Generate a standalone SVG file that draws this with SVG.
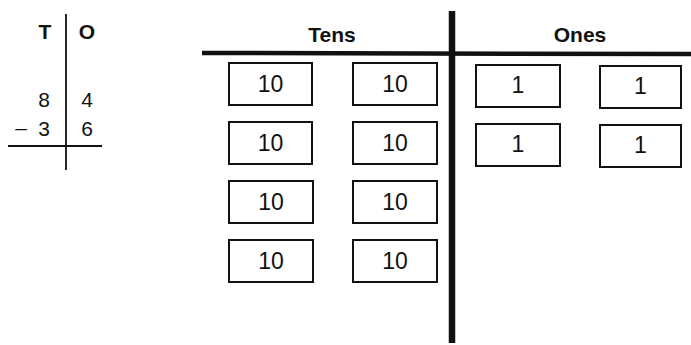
<svg xmlns="http://www.w3.org/2000/svg" width="691" height="345" viewBox="0 0 691 345">
<style>
.bx{fill:#fff;stroke:#111;stroke-width:2}
.n{font-family:"Liberation Sans",Arial,sans-serif;font-size:23px;fill:#111;text-anchor:middle}
.h{font-family:"Liberation Sans",Arial,sans-serif;font-size:21px;font-weight:bold;fill:#111;text-anchor:middle}
.s{font-family:"Liberation Sans",Arial,sans-serif;font-size:21px;fill:#111;text-anchor:middle}
.ln{stroke:#111;fill:none}
</style>
<rect width="691" height="345" fill="#fff"/>
<g id="subtraction">
<line class="ln" x1="66" y1="14" x2="66" y2="170" stroke-width="1.8"/>
<line class="ln" x1="8" y1="146" x2="102" y2="146" stroke-width="1.8"/>
<text class="h" x="45" y="39">T</text>
<text class="h" x="87" y="39">O</text>
<text class="s" x="44" y="107">8</text>
<text class="s" x="87" y="107">4</text>
<text class="s" x="21" y="135">–</text>
<text class="s" x="44" y="136">3</text>
<text class="s" x="87" y="136">6</text>
</g>
<g id="chart">
<line class="ln" x1="202" y1="53" x2="691" y2="54" stroke-width="4.5"/>
<line class="ln" x1="452" y1="11" x2="452" y2="343" stroke-width="6.5"/>
<text class="h" x="332" y="42">Tens</text>
<text class="h" x="580" y="42">Ones</text>
</g>
<g id="tens">
<g id="t1"><rect class="bx" x="229" y="63" width="83" height="42"/><text class="n" x="270.5" y="92">10</text></g>
<g id="t2"><rect class="bx" x="353" y="63" width="84" height="42"/><text class="n" x="395" y="92">10</text></g>
<g id="t3"><rect class="bx" x="229" y="122" width="83" height="42"/><text class="n" x="270.5" y="151">10</text></g>
<g id="t4"><rect class="bx" x="353" y="122" width="84" height="42"/><text class="n" x="395" y="151">10</text></g>
<g id="t5"><rect class="bx" x="229" y="181" width="84" height="42"/><text class="n" x="271" y="210">10</text></g>
<g id="t6"><rect class="bx" x="353" y="181" width="84" height="42"/><text class="n" x="395" y="210">10</text></g>
<g id="t7"><rect class="bx" x="229" y="240" width="84" height="42"/><text class="n" x="271" y="269">10</text></g>
<g id="t8"><rect class="bx" x="353" y="240" width="84" height="42"/><text class="n" x="395" y="269">10</text></g>
</g>
<g id="ones">
<g id="o1"><rect class="bx" x="476" y="65" width="84" height="42"/><text class="n" x="518" y="93">1</text></g>
<g id="o2"><rect class="bx" x="600" y="66" width="81" height="42"/><text class="n" x="640.5" y="94">1</text></g>
<g id="o3"><rect class="bx" x="476" y="124" width="84" height="42"/><text class="n" x="518" y="152">1</text></g>
<g id="o4"><rect class="bx" x="600" y="125" width="81" height="42"/><text class="n" x="640.5" y="153">1</text></g>
</g>
</svg>
